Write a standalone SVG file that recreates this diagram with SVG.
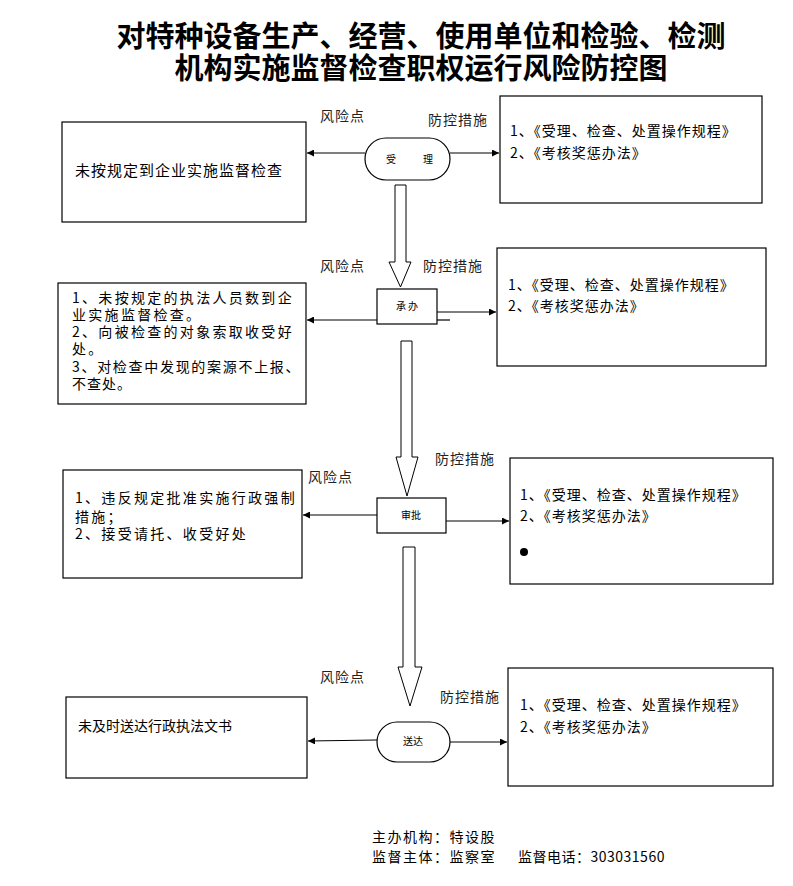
<svg xmlns="http://www.w3.org/2000/svg" width="793" height="886" viewBox="0 0 793 886">
<defs>
<marker id="ah" viewBox="0 0 10 10" refX="10" refY="5" markerWidth="7" markerHeight="7" markerUnits="userSpaceOnUse" orient="auto">
<path d="M0,0 L10,5 L0,10 z" fill="#000"/>
</marker>
</defs>
<style>
text{font-family:"Noto Sans CJK SC","Noto Sans",sans-serif;fill:#000}
.title{font-size:29px;font-weight:bold;text-anchor:middle}
.box{fill:#fff;stroke:#000;stroke-width:1.2}
.t{font-size:14px;letter-spacing:1px}
.tl{font-size:14px;letter-spacing:2.3px}
.lab{font-size:14px;letter-spacing:1px;fill:#222}
.n{font-size:10px;text-anchor:middle}
.conn line{stroke:#000;stroke-width:1.2}
.blk{fill:#fff;stroke:#000;stroke-width:1}
</style>
<rect width="793" height="886" fill="#fff"/>
<g id="title">
<text class="title"><tspan x="421" y="47">对特种设备生产、经营、使用单位和检验、检测</tspan><tspan x="421" y="79">机构实施监督检查职权运行风险防控图</tspan></text>
</g>

<g id="labels">
<text class="lab" x="320" y="121">风险点</text>
<text class="lab" x="428" y="125">防控措施</text>
<text class="lab" x="320" y="271">风险点</text>
<text class="lab" x="423" y="271">防控措施</text>
<text class="lab" x="308" y="482">风险点</text>
<text class="lab" x="435" y="464">防控措施</text>
<text class="lab" x="320" y="682">风险点</text>
<text class="lab" x="440" y="702">防控措施</text>
</g>

<g id="risk1">
<rect class="box" x="62" y="122" width="244" height="100"/>
<text x="75" y="176" style="font-size:15px;letter-spacing:1px">未按规定到企业实施监督检查</text>
</g>
<g id="measure1">
<rect class="box" x="500" y="96" width="262" height="107"/>
<text class="t"><tspan x="510" y="136">1、《受理、检查、处置操作规程》</tspan><tspan x="510" y="158">2、《考核奖惩办法》</tspan></text>
</g>
<g id="step1">
<rect class="box" x="365" y="138" width="85" height="42" rx="21" ry="21"/>
<text class="n" x="391" y="163">受</text>
<text class="n" x="428" y="163">理</text>
</g>

<g id="risk2">
<rect class="box" x="58" y="283" width="248" height="121"/>
<text class="tl"><tspan x="72" y="303">1、未按规定的执法人员数到企</tspan><tspan x="72" y="320">业实施监督检查。</tspan><tspan x="72" y="337">2、向被检查的对象索取收受好</tspan><tspan x="72" y="354">处。</tspan><tspan x="72" y="372" style="letter-spacing:1.7px">3、对检查中发现的案源不上报、</tspan><tspan x="72" y="389" style="letter-spacing:1px">不查处。</tspan></text>
</g>
<g id="measure2">
<rect class="box" x="497" y="248" width="269" height="118"/>
<text class="t"><tspan x="508" y="290">1、《受理、检查、处置操作规程》</tspan><tspan x="508" y="311">2、《考核奖惩办法》</tspan></text>
</g>
<g id="step2">
<rect class="box" x="377" y="289" width="60" height="35"/>
<text class="n" x="407" y="310">承 办</text>
</g>

<g id="risk3">
<rect class="box" x="63" y="470" width="239" height="108"/>
<text class="tl"><tspan x="75" y="503">1、违反规定批准实施行政强制</tspan><tspan x="75" y="522">措施；</tspan><tspan x="75" y="539">2、接受请托、收受好处</tspan></text>
</g>
<g id="measure3">
<rect class="box" x="510" y="458" width="263" height="126"/>
<text class="t"><tspan x="520" y="500">1、《受理、检查、处置操作规程》</tspan><tspan x="520" y="521">2、《考核奖惩办法》</tspan></text>
<circle cx="524" cy="552" r="4" fill="#000"/>
</g>
<g id="step3">
<rect class="box" x="377" y="498" width="69" height="35"/>
<text class="n" x="411" y="519">审批</text>
</g>

<g id="risk4">
<rect class="box" x="66" y="697" width="241" height="81"/>
<text x="78" y="731" style="font-size:14px">未及时送达行政执法文书</text>
</g>
<g id="measure4">
<rect class="box" x="508" y="668" width="265" height="118"/>
<text class="t"><tspan x="520" y="710">1、《受理、检查、处置操作规程》</tspan><tspan x="520" y="732">2、《考核奖惩办法》</tspan></text>
</g>
<g id="step4">
<rect class="box" x="377" y="722" width="73" height="40" rx="20" ry="20"/>
<text class="n" x="413" y="745">送达</text>
</g>

<g class="conn" id="connectors">
<line x1="365" y1="153" x2="307" y2="153" marker-end="url(#ah)"/>
<line x1="450" y1="153" x2="499" y2="153" marker-end="url(#ah)"/>
<line x1="377" y1="320" x2="307" y2="320" marker-end="url(#ah)"/>
<line x1="437" y1="312" x2="496" y2="312" marker-end="url(#ah)"/>
<line x1="437" y1="320" x2="450" y2="320"/>
<line x1="377" y1="515" x2="303" y2="515" marker-end="url(#ah)"/>
<line x1="446" y1="521" x2="509" y2="521" marker-end="url(#ah)"/>
<line x1="377" y1="740" x2="308" y2="741" marker-end="url(#ah)"/>
<line x1="450" y1="742" x2="507" y2="742" marker-end="url(#ah)"/>
<path class="blk" d="M395,185 L406,185 L406,262 L411,262 L400.5,287 L389,262 L395,262 Z"/>
<path class="blk" d="M401,341 L412,341 L412,457 L418,457 L407,496 L396,457 L401,457 Z"/>
<path class="blk" d="M403,547 L415,547 L415,667 L422,667 L410,706 L398,667 L403,667 Z"/>
</g>

<g id="footer">
<text class="t" style="letter-spacing:1.5px"><tspan x="372" y="842">主办机构：特设股</tspan><tspan x="372" y="862">监督主体：监察室</tspan></text>
<text class="t" x="518" y="862" style="letter-spacing:0.5px">监督电话：303031560</text>
</g>
</svg>
